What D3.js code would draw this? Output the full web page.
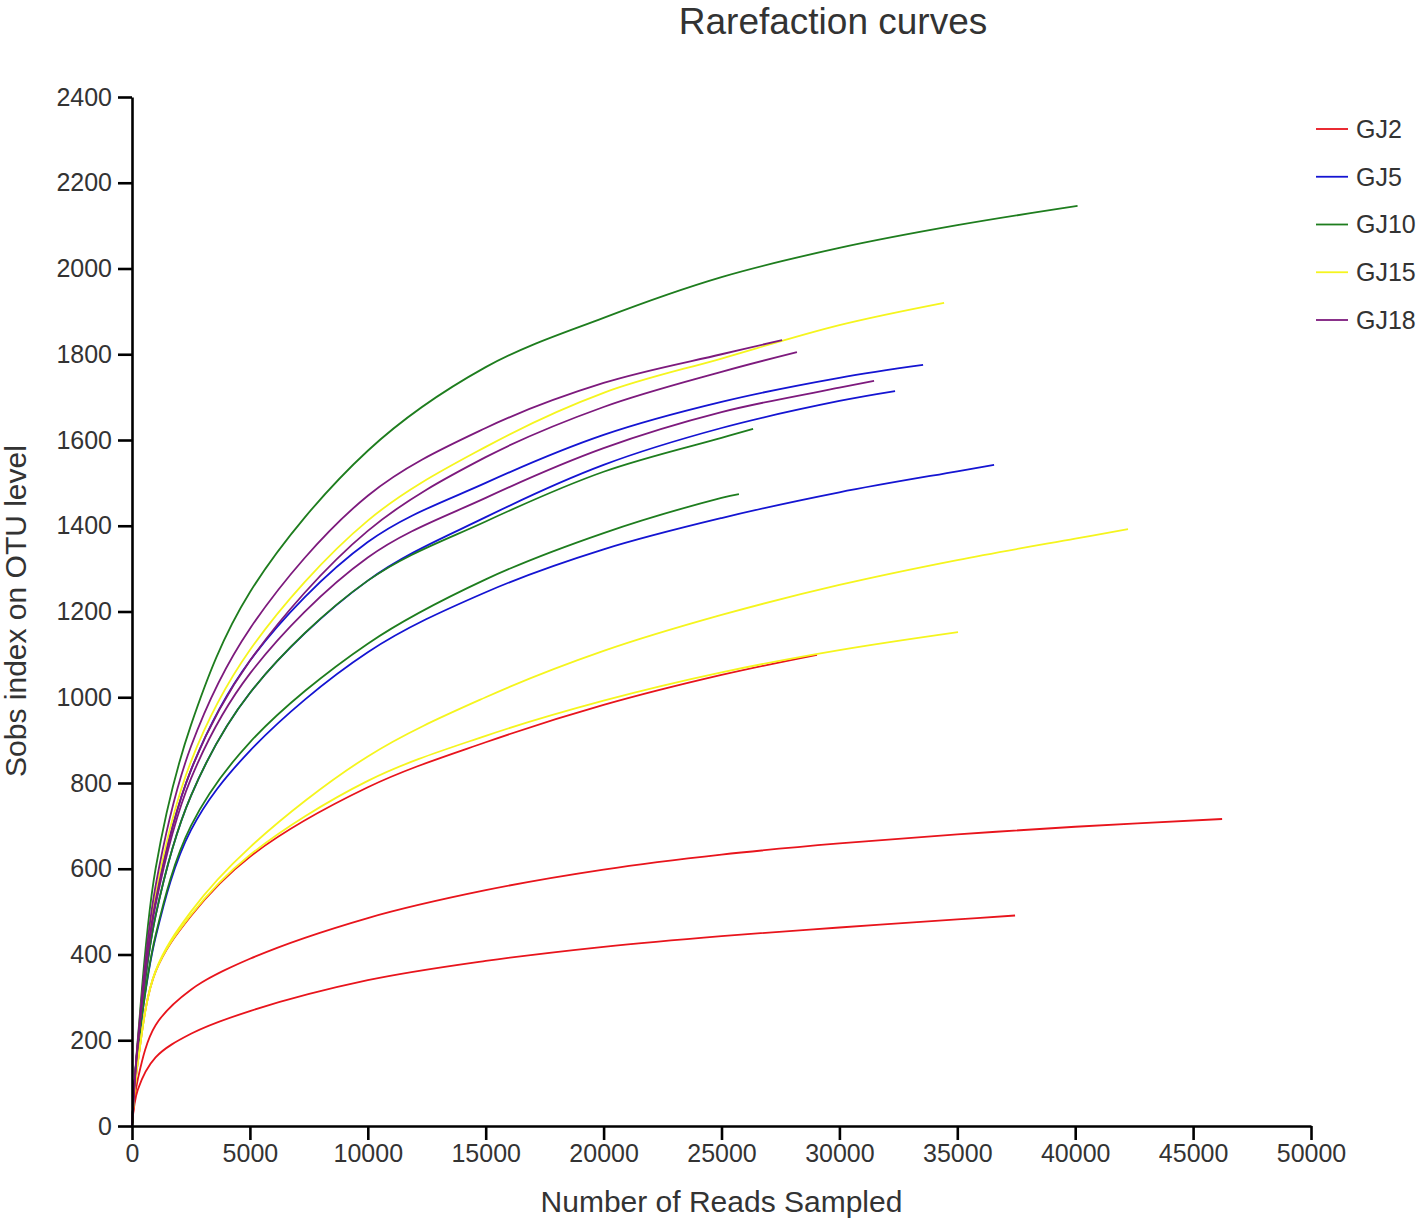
<!DOCTYPE html>
<html>
<head>
<meta charset="utf-8">
<script src="https://cdn.jsdelivr.net/npm/d3@7"></script>
<style>
  html, body { margin: 0; padding: 0; background: #fff; }
  svg { display: block; font-family: "Liberation Sans", Arial, Helvetica, sans-serif; }
</style>
</head>
<body>
<script>
// ---------- data (reads sampled, Sobs) ----------
const groups = ["GJ2", "GJ5", "GJ10", "GJ15", "GJ18"];
const groupColors = ["#e8141c", "#1414d2", "#1e7d1e", "#f5f51e", "#7d1a7d"];

const GJ2_1 = [[0,0],[250,150],[1000,360],[2500,490],[5000,628],[10000,790],[15000,895],[20000,982],[25000,1052],[29050,1099]];
const GJ2_2 = [[0,0],[250,110],[1000,235],[2500,318],[5000,390],[10000,485],[15000,550],[20000,598],[25000,633],[30000,659],[35000,680],[40000,698],[46230,716]];
const GJ2_3 = [[0,0],[250,85],[1000,160],[2500,215],[5000,268],[10000,340],[15000,385],[20000,418],[25000,443],[30000,463],[35000,482],[37450,491]];

const GJ5_1 = [[0,0],[250,195],[1000,525],[2500,830],[5000,1085],[10000,1362],[15000,1500],[20000,1612],[25000,1689],[30000,1745],[33550,1775]];
const GJ5_2 = [[0,0],[250,190],[1000,490],[2500,770],[5000,1010],[10000,1272],[15000,1420],[20000,1542],[25000,1628],[30000,1691],[32360,1714]];
const GJ5_3 = [[0,0],[250,178],[1000,440],[2500,690],[5000,875],[10000,1105],[15000,1245],[20000,1345],[25000,1418],[30000,1478],[35000,1527],[36560,1542]];

const GJ10_1 = [[0,0],[250,205],[1000,600],[2500,935],[5000,1245],[10000,1575],[15000,1770],[20000,1885],[25000,1980],[30000,2048],[35000,2101],[40100,2146]];
const GJ10_2 = [[0,0],[250,190],[1000,490],[2500,770],[5000,1010],[10000,1272],[15000,1410],[20000,1526],[25000,1605],[26340,1626]];
const GJ10_3 = [[0,0],[250,180],[1000,445],[2500,700],[5000,895],[10000,1125],[15000,1275],[20000,1383],[25000,1465],[25740,1474]];

const GJ15_1 = [[0,0],[250,195],[1000,540],[2500,850],[5000,1110],[10000,1412],[15000,1584],[20000,1710],[25000,1790],[30000,1868],[34440,1920]];
const GJ15_2 = [[0,0],[250,150],[1000,362],[2500,500],[5000,650],[10000,862],[15000,1000],[20000,1108],[25000,1192],[30000,1262],[35000,1320],[40000,1370],[42240,1392]];
const GJ15_3 = [[0,0],[250,150],[1000,360],[2500,492],[5000,632],[10000,805],[15000,910],[20000,992],[25000,1058],[30000,1110],[35030,1152]];

const GJ18_1 = [[0,0],[250,200],[1000,560],[2500,885],[5000,1160],[10000,1470],[15000,1628],[20000,1733],[25000,1800],[27570,1833]];
const GJ18_2 = [[0,0],[250,195],[1000,525],[2500,830],[5000,1085],[10000,1388],[15000,1560],[20000,1677],[25000,1759],[28200,1805]];
const GJ18_3 = [[0,0],[250,190],[1000,515],[2500,810],[5000,1055],[10000,1326],[15000,1465],[20000,1581],[25000,1665],[30000,1722],[31470,1738]];

const xTicks = [0,5000,10000,15000,20000,25000,30000,35000,40000,45000,50000];
const yTicks = [0,200,400,600,800,1000,1200,1400,1600,1800,2000,2200,2400];

const seriesByGroup = [
  [GJ2_1, GJ2_2, GJ2_3],
  [GJ5_1, GJ5_2, GJ5_3],
  [GJ10_1, GJ10_2, GJ10_3],
  [GJ15_1, GJ15_2, GJ15_3],
  [GJ18_1, GJ18_2, GJ18_3]
];

// ---------- chart ----------
const W = 1423, H = 1220;
const svg = d3.select("body").append("svg").attr("width", W).attr("height", H);
svg.append("rect").attr("width", W).attr("height", H).attr("fill", "#fff");

const x = d3.scaleLinear().domain([0, 50000]).range([132, 1311]);
const y = d3.scaleLinear().domain([0, 2400]).range([1126, 97]);

const textColor = "#333";

// title
svg.append("text").attr("x", 833).attr("y", 34).attr("text-anchor", "middle")
  .attr("font-size", 37).attr("fill", textColor).text("Rarefaction curves");

// lines
const line = d3.line().x(d => x(d[0])).y(d => y(d[1])).curve(d3.curveCatmullRom.alpha(0.5));
const gLines = svg.append("g");
seriesByGroup.forEach((arr, gi) => {
  arr.forEach(s => {
    gLines.append("path").attr("d", line(s)).attr("fill", "none")
      .attr("stroke", groupColors[gi]).attr("stroke-width", 1.8);
  });
});

// axes
const xAxis = svg.append("g").attr("transform", "translate(0,1126)")
  .call(d3.axisBottom(x).tickValues(xTicks).tickFormat(d3.format("d")).tickSize(14).tickSizeOuter(0).tickPadding(4));
const yAxis = svg.append("g").attr("transform", "translate(132,0)")
  .call(d3.axisLeft(y).tickValues(yTicks).tickFormat(d3.format("d")).tickSize(14).tickSizeOuter(0).tickPadding(6));
[xAxis, yAxis].forEach(a => {
  a.selectAll("path.domain").attr("stroke", "#000").attr("stroke-width", 2.6);
  a.selectAll(".tick line").attr("stroke", "#000").attr("stroke-width", 2.6);
  a.selectAll(".tick text").attr("font-size", 25).attr("fill", textColor)
    .attr("font-family", "'Liberation Sans', Arial, sans-serif");
});

// axis titles
svg.append("text").attr("x", 721.5).attr("y", 1212).attr("text-anchor", "middle")
  .attr("font-size", 30).attr("fill", textColor).text("Number of Reads Sampled");
svg.append("text").attr("transform", "translate(26,611) rotate(-90)").attr("text-anchor", "middle")
  .attr("font-size", 30).attr("fill", textColor).text("Sobs index on OTU level");

// legend
const lg = svg.append("g");
groups.forEach((g, i) => {
  const yy = 129 + i * 47.75;
  lg.append("line").attr("x1", 1316).attr("x2", 1348).attr("y1", yy).attr("y2", yy)
    .attr("stroke", groupColors[i]).attr("stroke-width", 1.8);
  lg.append("text").attr("x", 1356).attr("y", yy).attr("dy", "0.35em")
    .attr("font-size", 25).attr("fill", textColor).text(g);
});
</script>
</body>
</html>
